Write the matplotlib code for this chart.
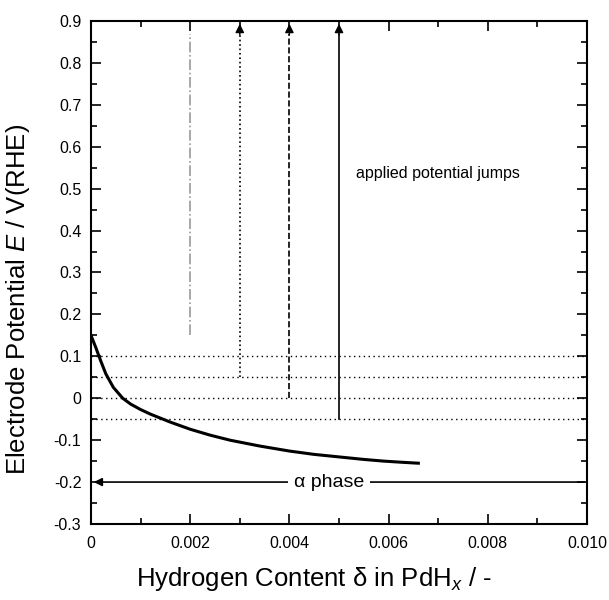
import matplotlib.pyplot as plt
import numpy as np

plt.rcParams['font.family'] = ['Liberation Sans', 'DejaVu Sans']
plt.rcParams['axes.unicode_minus'] = False
plt.rcParams['mathtext.fontset'] = 'custom'
plt.rcParams['mathtext.rm'] = 'Liberation Sans'
plt.rcParams['mathtext.it'] = 'Liberation Sans:italic'

# isotherm (alpha phase)
delta = [0, 0.0001, 0.0002, 0.0003, 0.00045, 0.00064, 0.0008, 0.001, 0.0012, 0.0016,
         0.002, 0.0024, 0.0028, 0.0034, 0.004, 0.0045, 0.005, 0.0055, 0.0059, 0.0063, 0.0066]
potential = [0.15, 0.12, 0.088, 0.058, 0.026, 0.0, -0.014, -0.027, -0.038, -0.057,
             -0.074, -0.088, -0.1, -0.114, -0.126, -0.134, -0.14, -0.146, -0.15, -0.153, -0.155]

# potential jumps: start potential of each step and the delta where it is drawn
jump_x = [0.002, 0.003, 0.004, 0.005]
jump_start = [0.15, 0.05, 0.0, -0.05]
jump_style = ['-.', ':', '--', '-']
jump_color = ['0.6', 'k', 'k', 'k']

# dotted reference levels
levels = [0.1, 0.05, 0.0, -0.05]

fig = plt.figure(figsize=(6.09, 6.0), dpi=100)
ax = fig.add_axes([0.1494, 0.1267, 0.8145, 0.8383])

for lv in levels:
    ax.plot([0, 0.010], [lv, lv], color='k', linestyle=(0, (1, 2.5)), lw=1.0)

ax.plot(delta, potential, color='k', lw=2.2)

for x, y0, ls, c in zip(jump_x, jump_start, jump_style, jump_color):
    ax.plot([x, x], [y0, 0.87], color=c, linestyle=ls, lw=1.2)
    if c == 'k':
        ax.annotate('', xy=(x, 0.9), xytext=(x, 0.86),
                    arrowprops=dict(arrowstyle='-|>', color='k', lw=1, mutation_scale=13))

ax.text(0.00535, 0.535, 'applied potential jumps', fontsize=11.5, va='center')

# alpha phase arrow
ax.annotate('', xy=(0, -0.2), xytext=(0.010, -0.2),
            arrowprops=dict(arrowstyle='-|>', color='k', lw=1.2, mutation_scale=12))
ax.text(0.0048, -0.2, 'α phase', fontsize=14, ha='center', va='center',
        bbox=dict(facecolor='white', edgecolor='none', pad=4))

ax.set_xlim(0, 0.010)
ax.set_ylim(-0.3, 0.9)
ax.set_xticks(np.arange(0, 0.0101, 0.002))
ax.set_xticklabels(['0', '0.002', '0.004', '0.006', '0.008', '0.010'])
ax.set_xticks(np.arange(0, 0.0101, 0.001), minor=True)
yt = np.round(np.arange(-0.3, 0.91, 0.1), 1)
ax.set_yticks(yt)
ax.set_yticklabels(['0' if v == 0 else f'{v:g}' for v in yt])
ax.set_yticks(np.arange(-0.3, 0.91, 0.05), minor=True)
ax.tick_params(which='both', direction='in', top=True, right=True, labelsize=11.5, width=1.2)
ax.tick_params(which='major', length=7, pad=7)
ax.tick_params(axis='x', which='major', pad=9)
ax.tick_params(which='minor', length=4)
for s in ax.spines.values():
    s.set_linewidth(1.5)

ax.set_xlabel('Hydrogen Content δ in PdH$_x$ / -', fontsize=18.5)
ax.set_ylabel('Electrode Potential $E$ / V(RHE)', fontsize=18.5)
ax.xaxis.set_label_coords(0.45, -0.082)
ax.yaxis.set_label_coords(-0.119, 0.447)

fig.savefig('out.png', dpi=100)
